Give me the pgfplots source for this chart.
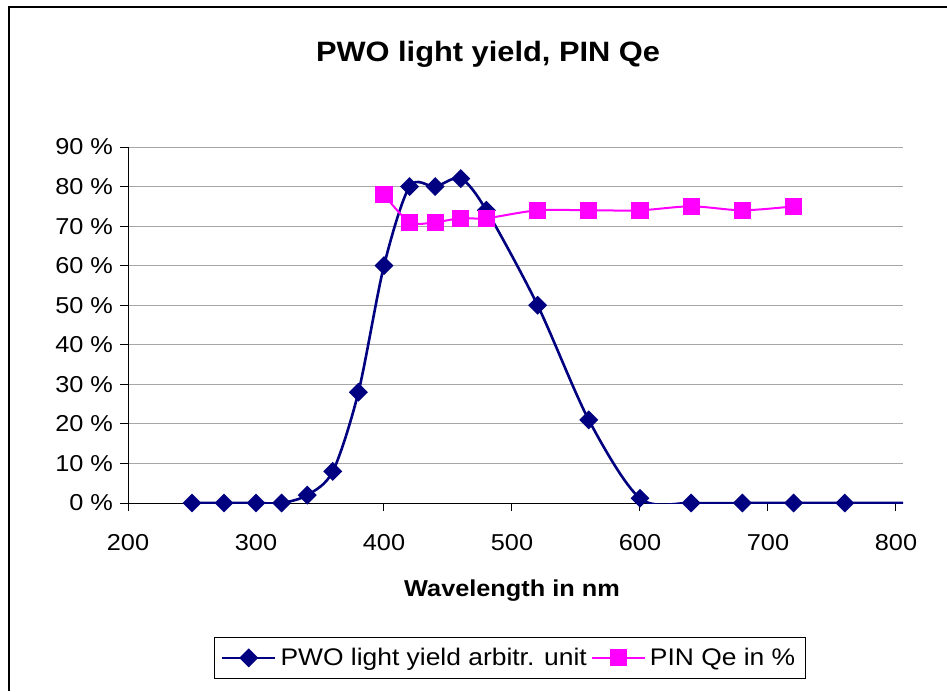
\documentclass[border=0pt]{standalone}
\usepackage{fontspec}
\setmainfont[FakeStretch=1.1]{Liberation Sans}
\usepackage{pgfplots}
\pgfplotsset{compat=1.18}
\definecolor{pwonavy}{RGB}{0,0,128}
\definecolor{pinmagenta}{RGB}{255,0,255}

\begin{document}
\begin{tikzpicture}
\useasboundingbox (0,0) rectangle (473.5pt,345.5pt);
\fill[white] (0,0) rectangle (473.5pt,345.5pt);
% frame of the chart area
\draw[line width=1pt] (4.5pt,0) -- (4.5pt,342pt) -- (473.5pt,342pt);
% title
\node[anchor=base, inner sep=0pt, font=\fontsize{14}{16}\selectfont\bfseries]
  at (244pt,314.5pt) {PWO light yield, PIN Qe};
% axis title
\node[anchor=base, inner sep=0pt, font=\fontsize{11.5}{14}\selectfont\bfseries]
  at (256pt,47.5pt) {Wavelength in nm};
\begin{axis}[
  at={(64pt,94pt)}, anchor=south west,
  scale only axis, width=387.5pt, height=178pt,
  xmin=200, xmax=805.5, ymin=0, ymax=90,
  xtick={200,300,...,800}, ytick={0,10,...,90},
  axis x line*=bottom, axis y line*=left,
  axis line style={-, black, line width=0.5pt},
  tick align=outside, major tick length=4pt,
  tick style={black, line width=0.5pt},
  ymajorgrids, grid style={gray!70, line width=0.5pt},
  /pgf/number format/assume math mode=true,
  ticklabel style={font=\fontsize{11.5}{13}\selectfont},
  yticklabel={\pgfmathprintnumber{\tick}~\%},
  xticklabel style={yshift=-8pt},
  legend columns=2,
  legend style={at={(axis description cs:0.4929,-0.435)}, anchor=center,
    draw=black, line width=0.5pt, font=\fontsize{12}{14}\selectfont,
    inner xsep=3pt, inner ysep=3pt,
    /tikz/every even column/.append style={column sep=0pt}},
  legend image code/.code={%
    \draw[mark repeat=2, mark phase=2] plot coordinates {(0pt,0pt) (13.3pt,0pt) (26.6pt,0pt)};},
]
% PWO light yield; the curve runs on past the right edge
\addplot[pwonavy, line width=1.3pt, smooth, mark=square*, mark indices={1,...,19},
  mark options={solid, rotate=45, mark size=2.7pt, fill=pwonavy}, forget plot]
  coordinates {
  (250,0) (275,0) (300,0) (320,0) (340,2) (360,8) (380,28) (400,60)
  (420,80) (440,80) (460,82) (480,74) (520,50) (560,21) (600,1.2)
  (640,0) (680,0) (720,0) (760,0) (840,0)
  };
\addlegendimage{pwonavy, line width=1.3pt, mark=square*,
  mark options={solid, rotate=45, mark size=2.7pt, fill=pwonavy}}
\addlegendentry{PWO light yield arbitr. unit}
% PIN quantum efficiency
\addplot[pinmagenta, line width=1pt, smooth, mark=square*,
  mark options={solid, mark size=3.8pt, fill=pinmagenta}]
  coordinates {
  (400,78) (420,71) (440,71) (460,72) (480,72) (520,74) (560,74)
  (600,74) (640,75) (680,74) (720,75)
  };
\addlegendentry{PIN Qe in \%}
\end{axis}
\end{tikzpicture}
\end{document}
